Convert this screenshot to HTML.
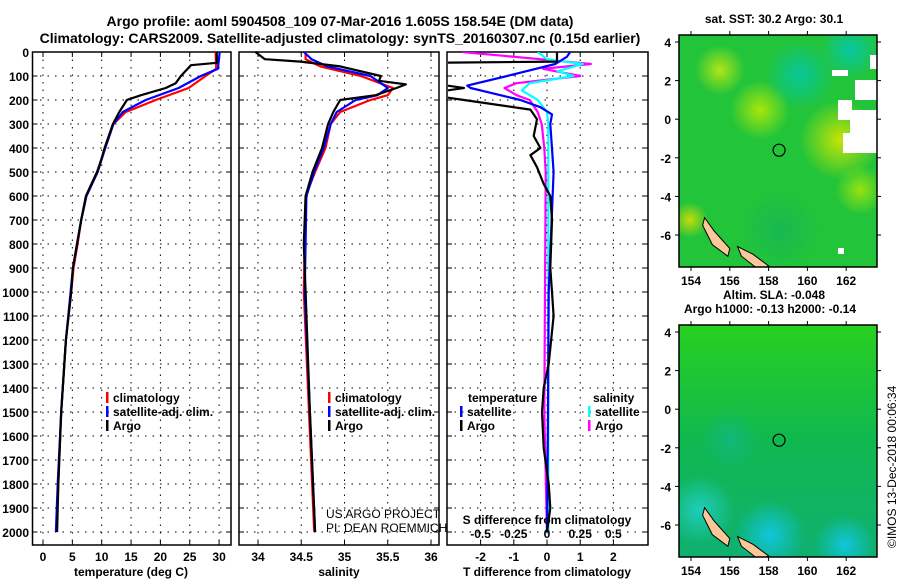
<!DOCTYPE html>
<html><head><meta charset="utf-8"><style>
html,body{margin:0;padding:0;background:#fff;width:900px;height:580px;overflow:hidden}
svg text{font-family:"Liberation Sans",sans-serif;font-weight:bold;fill:#000}
</style></head><body>
<svg id="fig" width="900" height="580" viewBox="0 0 900 580" xmlns="http://www.w3.org/2000/svg">
<text x="340" y="26" font-size="14" text-anchor="middle">Argo profile: aoml 5904508_109 07-Mar-2016 1.605S 158.54E (DM data)</text>
<text x="340" y="43" font-size="14" text-anchor="middle">Climatology: CARS2009. Satellite-adjusted climatology: synTS_20160307.nc (0.15d earlier)</text>
<g id="plots"></g>
<g id="maps"></g>
</svg>
<script>
// ---------- data ----------
const depthTicks=[0,100,200,300,400,500,600,700,800,900,1000,1100,1200,1300,1400,1500,1600,1700,1800,1900,2000];
const tempTicks=[0,5,10,15,20,25,30];
const salTicks=[34,34.5,35,35.5,36];
const dTTicks=[-2,-1,0,1,2];
const dSTicks=[-0.5,-0.25,0,0.25,0.5];
const dSTickLabels=["-0.5","-0.25","0","0.25","0.5"];

const argoTD=[0,45,55,100,130,150,180,200,250,300,400,450,500,600,700,800,900,1000,1200,1500,1800,2000];
const argoT=[29.6,29.6,25.2,23.5,22.6,20.9,16.7,14.3,13,11.9,10.5,9.9,9.2,7.3,6.5,5.8,5.1,4.8,3.9,3.1,2.6,2.4];
const climTD=[0,70,100,150,200,250,300,400,500,600,700,800,900,1000,1200,1500,1800,2000];
const climT=[29.4,29.5,27.7,24.8,19.2,14.1,12,10.6,9.3,7.4,6.5,5.9,5.2,4.8,3.9,3.1,2.6,2.3];
const satT=[30.1,29.8,26.9,23.1,17.5,13.6,12,10.6,9.3,7.4,6.5,5.8,5.1,4.7,3.9,3.1,2.5,2.2];

const argoSD=[0,30,40,60,100,120,135,150,180,200,250,300,400,500,600,800,1000,1500,2000];
const argoS=[33.97,34.08,34.49,34.95,35.42,35.40,35.71,35.6,35.36,34.95,34.87,34.81,34.74,34.63,34.55,34.53,34.55,34.6,34.66];
const climSD=[0,30,60,100,150,180,200,250,300,400,500,600,1000,1500,2000];
const climS=[34.55,34.55,34.72,35.19,35.56,35.5,35.3,34.95,34.84,34.78,34.66,34.55,34.53,34.59,34.65];
const satS=[34.53,34.62,34.8,35.3,35.5,35.38,35.13,34.91,34.84,34.76,34.65,34.56,34.54,34.6,34.66];

const dArgoTD=[0,40,45,140,150,160,180,200,240,280,350,400,430,480,550,600,700,900,1000,1100,1300,1400,1500,1650,1800,1900,2000];
const dArgoT=[0.3,0.3,-3.5,-3,-2.5,-3,-3.5,-2.5,-0.5,-0.3,-0.4,-0.2,-0.5,-0.3,-0.1,0.1,0.15,0.1,0.15,0.2,0.05,-0.1,-0.15,-0.1,0.05,0.1,0];
const dSatTD=[0,20,50,100,140,150,170,200,230,260,300,500,1000,1500,2000];
const dSatT=[0.7,0.6,0.25,-1.2,-2.4,-2.3,-1.7,-0.8,-0.2,0.15,0.1,0.2,0.05,0.03,0];
const dArgoSD=[0,30,50,70,100,130,150,180,200,250,300,400,500,1500,2000];
const dArgoS=[-0.64,-0.05,0.33,-0.03,0.25,-0.23,-0.32,-0.23,-0.13,-0.07,-0.04,-0.02,-0.01,-0.02,0];
const dSatSD=[0,30,50,80,100,130,160,200,250,300,2000];
const dSatS=[-0.07,0,0.27,0.08,0.2,-0.13,-0.19,-0.07,0,0.01,0.01];

// ---------- helpers ----------
const NS="http://www.w3.org/2000/svg";
const plots=document.getElementById('plots');
function el(tag,attrs,parent){const e=document.createElementNS(NS,tag);for(const k in attrs)e.setAttribute(k,attrs[k]);(parent||plots).appendChild(e);return e;}
const top0=52, bot=545;
function yD(d){return top0+d*0.24;}
function frame(x0,x1,name){
  const r=el('rect',{x:x0,y:top0,width:x1-x0,height:bot-top0,fill:'none',stroke:'#000','stroke-width':1.5});
  
  
  depthTicks.forEach(d=>{
    const g=el('line',{x1:x0,x2:x1,y1:yD(d),y2:yD(d),stroke:'#000','stroke-width':1,'stroke-dasharray':'1.5 6'});
    
    
    el('line',{x1:x0,x2:x0+5,y1:yD(d),y2:yD(d),stroke:'#000'});
    el('line',{x1:x1-5,x2:x1,y1:yD(d),y2:yD(d),stroke:'#000'});
  });
}
function vgrid(xs,x0,x1){xs.forEach(x=>{
  const g=el('line',{x1:x,x2:x,y1:top0,y2:bot,stroke:'#000','stroke-width':1,'stroke-dasharray':'1.5 6'});
  
  
  el('line',{x1:x,x2:x,y1:bot-5,y2:bot,stroke:'#000'});
  el('line',{x1:x,x2:x,y1:top0,y2:top0+5,stroke:'#000'});
});}
function line(ds,vs,fx,color,name,w){
  const pts=ds.map((d,i)=>fx(vs[i]).toFixed(1)+','+yD(d).toFixed(1)).join(' ');
  const p=el('polyline',{points:pts,fill:'none',stroke:color,'stroke-width':w||2.2,'stroke-linejoin':'round'});
  
  
}
function txt(x,y,s,size,anchor,name,weight){
  const t=el('text',{x:x,y:y,'font-size':size,'text-anchor':anchor||'start'});
  if(weight)t.setAttribute('style','font-weight:'+weight);
  t.textContent=s;
  
  
  return t;
}
function legend(x,y,label,color){
  el('rect',{x:x,y:y-10,width:2.5,height:11,fill:color});
  txt(x+7,y,label,12,'start','legend-entry');
}

// ---------- panel 1: temperature ----------
const xT=v=>43+v*5.87;
frame(32.5,231,'temperature-panel');
vgrid(tempTicks.map(xT));
depthTicks.forEach(d=>txt(29,yD(d)+5,String(d),12,'end','depth-tick-label'));
tempTicks.forEach(v=>txt(xT(v),561,String(v),12,'middle','temperature-tick-label'));
txt(131,576,'temperature (deg C)',12,'middle','temperature-axis-title');
line(climTD,climT,xT,'#ff0000','climatology-temperature-line');
line(climTD,satT,xT,'#0000ff','satellite-temperature-line');
line(argoTD,argoT,xT,'#000000','argo-temperature-line');
legend(106,402,'climatology','#ff0000');
legend(106,416,'satellite-adj. clim.','#0000ff');
legend(106,430,'Argo','#000000');

// ---------- panel 2: salinity ----------
const xS=v=>258+(v-34)*86.5;
frame(239,439,'salinity-panel');
vgrid(salTicks.map(xS));
salTicks.forEach(v=>txt(xS(v),561,String(v),12,'middle','salinity-tick-label'));
txt(339,576,'salinity',12,'middle','salinity-axis-title');
line(climSD,climS,xS,'#ff0000','climatology-salinity-line');
line(climSD,satS,xS,'#0000ff','satellite-salinity-line');
line(argoSD,argoS,xS,'#000000','argo-salinity-line');
legend(328,402,'climatology','#ff0000');
legend(328,416,'satellite-adj. clim.','#0000ff');
legend(328,430,'Argo','#000000');
txt(326,518,'US ARGO PROJECT',12,'start','credit-project','normal');
txt(326,532,'PI: DEAN ROEMMICH',12,'start','credit-pi','normal');

// ---------- panel 3: differences ----------
const xdT=v=>547+v*33.2;
const xdS=v=>547+v*132.8;
frame(447,648,'difference-panel');
vgrid(dTTicks.map(xdT));
const cp3=el('clipPath',{id:'clip3'});
el('rect',{x:448,y:top0,width:199,height:bot-top0},cp3);
const g3=el('g',{'clip-path':'url(#clip3)'});
function line3(ds,vs,fx,color,name){
  const pts=ds.map((d,i)=>fx(vs[i]).toFixed(1)+','+yD(d).toFixed(1)).join(' ');
  const p=el('polyline',{points:pts,fill:'none',stroke:color,'stroke-width':2.2,'stroke-linejoin':'round'},g3);
  
  
}
line3(dArgoSD,dArgoS,xdS,'#ff00ff','argo-salinity-difference-line');
line3(dSatSD,dSatS,xdS,'#00ffff','satellite-salinity-difference-line');
line3(dSatTD,dSatT,xdT,'#0000ff','satellite-temperature-difference-line');
line3(dArgoTD,dArgoT,xdT,'#000000','argo-temperature-difference-line');
dTTicks.forEach(v=>txt(xdT(v),561,String(v),12,'middle','t-difference-tick-label'));
txt(547,576,'T difference from climatology',12,'middle','t-difference-axis-title');
txt(547,524,'S difference from climatology',12,'middle','s-difference-axis-title');
dSTicks.forEach((v,i)=>txt(xdS(v),538,dSTickLabels[i],12,'middle','s-difference-tick-label'));
txt(468,402,'temperature',12,'start','legend-title-temperature');
legend(460,416,'satellite','#0000ff');
legend(460,430,'Argo','#000000');
txt(593,402,'salinity',12,'start','legend-title-salinity');
legend(588,416,'satellite','#00ffff');
legend(588,430,'Argo','#ff00ff');
</script>
<script>
// ---------- maps ----------
(function(){
const NS="http://www.w3.org/2000/svg";
const maps=document.getElementById('maps');
function el(tag,a,p){const e=document.createElementNS(NS,tag);for(const k in a)e.setAttribute(k,a[k]);(p||maps).appendChild(e);return e;}
const defs=el('defs',{});
function map(y0,name,titleLines,sst){
  const x0=679,x1=877,y1=y0+232;
  const lon=v=>691+(v-154)*19.4;
  const lat=v=>y0+7+(4-v)*19.3;
  const cp=el('clipPath',{id:'c'+name},defs);el('rect',{x:x0,y:y0,width:x1-x0,height:y1-y0},cp);
  const g=el('g',{'clip-path':'url(#c'+name+')'});
  
  
  if(sst){
    el('rect',{x:x0,y:y0,width:198,height:232,fill:'#22c43a'},g);
    [[760,110,30,'#c8f000',0.8],[840,140,40,'#d8e800',0.9],[720,70,25,'#d4ee10',0.8],[690,220,18,'#f0e000',0.8],[800,75,35,'#00c8b0',0.8],[850,50,30,'#00c8c0',0.8],[860,190,25,'#c8f000',0.7],[780,230,40,'#10b060',0.6]].forEach(c=>{
      const id='g'+name+c[0]+'_'+c[1];
      const gr=el('radialGradient',{id:id},defs);
      el('stop',{offset:'0','stop-color':c[3],'stop-opacity':c[4]},gr);el('stop',{offset:'1','stop-color':c[3],'stop-opacity':0},gr);
      el('circle',{cx:c[0],cy:c[1],r:c[2],fill:'url(#'+id+')'},g);
    });
    [[850,110,27,25],[838,100,14,20],[855,80,22,20],[843,133,34,20],[832,70,16,6],[870,55,7,14],[838,248,6,6]].forEach(r=>el('rect',{x:r[0],y:r[1],width:r[2],height:r[3],fill:'#fff'},g));
  } else {
    const lg=el('linearGradient',{id:'lg'+name,x1:0,y1:0,x2:0,y2:1},defs);
    el('stop',{offset:'0','stop-color':'#28d020'},lg);el('stop',{offset:'0.5','stop-color':'#10b850'},lg);el('stop',{offset:'1','stop-color':'#10b070'},lg);
    el('rect',{x:x0,y:y0,width:198,height:232,fill:'url(#lg'+name+')'},g);
    [[770,535,35,'#10c8e8'],[700,510,35,'#20d0c8'],[845,545,30,'#10c8e8'],[730,440,30,'#10b880']].forEach(c=>{
      const id='g'+name+c[0];
      const gr=el('radialGradient',{id:id},defs);
      el('stop',{offset:'0','stop-color':c[3],'stop-opacity':0.9},gr);el('stop',{offset:'1','stop-color':c[3],'stop-opacity':0},gr);
      el('circle',{cx:c[0],cy:c[1],r:c[2],fill:'url(#'+id+')'},g);
    });
  }
  // land
  el('polygon',{points:`${lon(154.7)},${lat(-5.1)} ${lon(155.2)},${lat(-5.8)} ${lon(156)},${lat(-6.7)} ${lon(155.9)},${lat(-7.1)} ${lon(155.1)},${lat(-6.5)} ${lon(154.6)},${lat(-5.5)}`,fill:'#fcc89a',stroke:'#000','stroke-width':1},g);
  el('polygon',{points:`${lon(156.4)},${lat(-6.6)} ${lon(157.2)},${lat(-7)} ${lon(158)},${lat(-7.6)} ${lon(157.5)},${lat(-7.8)} ${lon(156.6)},${lat(-7.1)}`,fill:'#fcc89a',stroke:'#000','stroke-width':1},g);
  el('circle',{cx:lon(158.54),cy:lat(-1.605),r:6,fill:'none',stroke:'#000','stroke-width':1.2},g);
  const fr=el('rect',{x:x0,y:y0,width:198,height:232,fill:'none',stroke:'#000','stroke-width':1.5});
  
  
  [4,2,0,-2,-4,-6].forEach(v=>{
    el('line',{x1:x0,x2:x0-4,y1:lat(v),y2:lat(v),stroke:'#000'});el('line',{x1:x1,x2:x1+4,y1:lat(v),y2:lat(v),stroke:'#000'});
    const t=el('text',{x:x0-8,y:lat(v)+5,'font-size':12,'text-anchor':'end'});t.textContent=String(v);
    
    
  });
  [154,156,158,160,162].forEach(v=>{
    el('line',{x1:lon(v),x2:lon(v),y1:y1,y2:y1+4,stroke:'#000'});el('line',{x1:lon(v),x2:lon(v),y1:y0,y2:y0-4,stroke:'#000'});
    const t=el('text',{x:lon(v),y:y1+18,'font-size':12,'text-anchor':'middle'});t.textContent=String(v);
    
    
  });
  titleLines.forEach((s,i)=>{
    const t=el('text',{x:[774,770][i],y:y0-12-(titleLines.length-1-i)*14,'font-size':12,'text-anchor':'middle'});t.textContent=s;
    
    
  });
}
map(35,'sst-map',['sat. SST: 30.2 Argo: 30.1'],true);
map(325,'sla-map',['Altim. SLA: -0.048','Argo h1000: -0.13 h2000: -0.14'],false);
const c=el('text',{x:0,y:0,'font-size':12,transform:'translate(896,548) rotate(-90)',style:'font-weight:normal'});
c.textContent='©IMOS 13-Dec-2018 00:06:34';


})();
</script>
</body></html>
